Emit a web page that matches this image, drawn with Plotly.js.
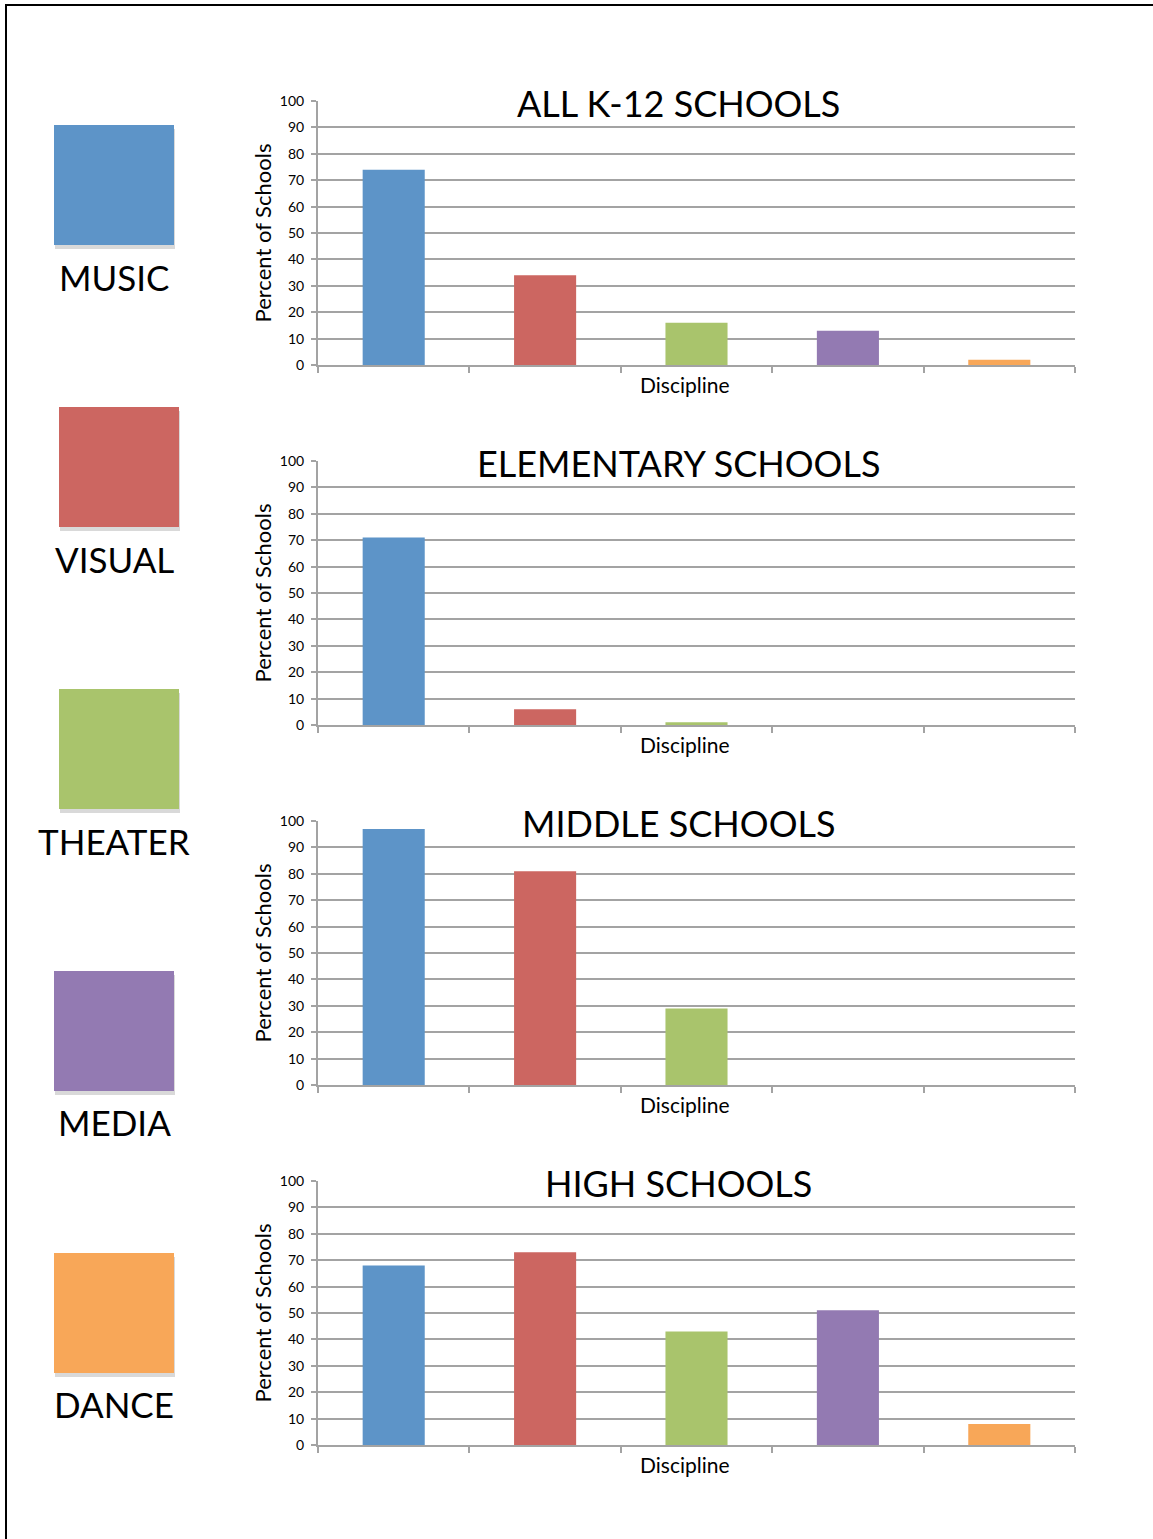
<!DOCTYPE html>
<html>
<head>
<meta charset="utf-8">
<script src="https://cdn.plot.ly/plotly-3.0.1.min.js"></script>
<style>
html,body{margin:0;padding:0;background:#fff;}
#chart{width:1153px;height:1539px;}
</style>
</head>
<body>
<div id="chart"></div>
<script>
const disciplines = ["MUSIC", "VISUAL", "THEATER", "MEDIA", "DANCE"];
const colors = ["#5D94C8", "#CC6661", "#A9C46C", "#937AB2", "#F8A758"];
const panelTitles = ["ALL K-12 SCHOOLS", "ELEMENTARY SCHOOLS", "MIDDLE SCHOOLS", "HIGH SCHOOLS"];
const xAxisTitle = "Discipline";
const yAxisTitle = "Percent of Schools";
const allSchools = [74, 34, 16, 13, 2];
const elementarySchools = [71, 6, 1, 0, 0];
const middleSchools = [97, 81, 29, 0, 0];
const highSchools = [68, 73, 43, 51, 8];
const yTickVals = [0, 10, 20, 30, 40, 50, 60, 70, 80, 90, 100];
const yTickText = ["0", "10", "20", "30", "40", "50", "60", "70", "80", "90", "100"];
const series = [allSchools, elementarySchools, middleSchools, highSchools];

const W = 1153, H = 1539;
const px = x => x / W;
const py = y => 1 - y / H;
const FONT = "Lato, 'Open Sans', sans-serif";
const GRID = "#a3a3a3";

const panels = [[101, 365], [461, 725], [821, 1085], [1181, 1445]];
const plotLeft = 318, plotRight = 1075;

const data = [];
const layout = {
  width: W, height: H,
  margin: {l: 0, r: 0, t: 0, b: 0},
  paper_bgcolor: "#fff", plot_bgcolor: "#fff",
  showlegend: false,
  bargap: 0.59,
  font: {family: FONT, color: "#000"},
  shapes: [], annotations: []
};

series.forEach((vals, i) => {
  const n = i + 1;
  const xa = n === 1 ? "x" : "x" + n;
  const ya = n === 1 ? "y" : "y" + n;
  data.push({
    type: "bar", x: disciplines, y: vals, xaxis: xa, yaxis: ya,
    marker: {color: colors, line: {width: 0}},
    hoverinfo: "x+y"
  });
  const [top, bot] = panels[i];
  layout[n === 1 ? "xaxis" : "xaxis" + n] = {
    domain: [px(plotLeft), px(plotRight)],
    anchor: ya,
    type: "category",
    range: [-0.5, 4.5],
    showticklabels: false,
    ticks: "outside", ticklen: 6, tickwidth: 2, tickcolor: GRID,
    tickson: "boundaries",
    showgrid: false,
    showline: true, linecolor: GRID, linewidth: 2,
    fixedrange: true
  };
  layout[n === 1 ? "yaxis" : "yaxis" + n] = {
    domain: [py(bot), py(top)],
    anchor: xa,
    range: [0, 100],
    tickvals: yTickVals, ticktext: yTickText,
    ticks: "outside", ticklen: 5, tickwidth: 2, tickcolor: GRID,
    ticklabelstandoff: 4,
    tickfont: {size: 14, family: FONT, color: "#000"},
    showgrid: true, gridcolor: GRID, gridwidth: 2,
    zeroline: false,
    showline: true, linecolor: GRID, linewidth: 2,
    title: {text: yAxisTitle, font: {size: 22, family: FONT, color: "#000"}, standoff: 2},
    fixedrange: true
  };
  layout.annotations.push({
    xref: "paper", yref: "paper", x: px(678), y: py(top + 2),
    xanchor: "center", yanchor: "middle", showarrow: false,
    text: panelTitles[i], font: {size: 36, family: FONT, color: "#000"}
  });
  layout.annotations.push({
    xref: "paper", yref: "paper", x: px(685), y: py(bot + 19),
    xanchor: "center", yanchor: "middle", showarrow: false,
    text: xAxisTitle, font: {size: 21, family: FONT, color: "#000"}
  });
});

const legendBoxes = [[54, 125], [59, 407], [59, 689], [54, 971], [54, 1253]];
const legendLabelY = [277, 559, 841, 1122, 1404];
disciplines.forEach((d, i) => {
  const [lx, ly] = legendBoxes[i];
  layout.shapes.push({
    type: "rect", xref: "paper", yref: "paper",
    x0: px(lx + 1), x1: px(lx + 121), y0: py(ly + 124), y1: py(ly + 4),
    fillcolor: "rgba(0,0,0,0.15)", line: {width: 0}, layer: "below"
  });
  layout.shapes.push({
    type: "rect", xref: "paper", yref: "paper",
    x0: px(lx), x1: px(lx + 120), y0: py(ly + 120), y1: py(ly),
    fillcolor: colors[i], line: {width: 0}, layer: "above"
  });
  layout.annotations.push({
    xref: "paper", yref: "paper", x: px(114), y: py(legendLabelY[i]),
    xanchor: "center", yanchor: "middle", showarrow: false,
    text: d, font: {size: 35, family: FONT, color: "#000"}
  });
});

layout.shapes.push({type: "line", xref: "paper", yref: "paper",
  x0: px(5), x1: 1, y0: py(5), y1: py(5), line: {color: "#000", width: 2}});
layout.shapes.push({type: "line", xref: "paper", yref: "paper",
  x0: px(6), x1: px(6), y0: py(4), y1: 0, line: {color: "#000", width: 2}});

Plotly.newPlot("chart", data, layout, {displayModeBar: false, staticPlot: true});
</script>
</body>
</html>
